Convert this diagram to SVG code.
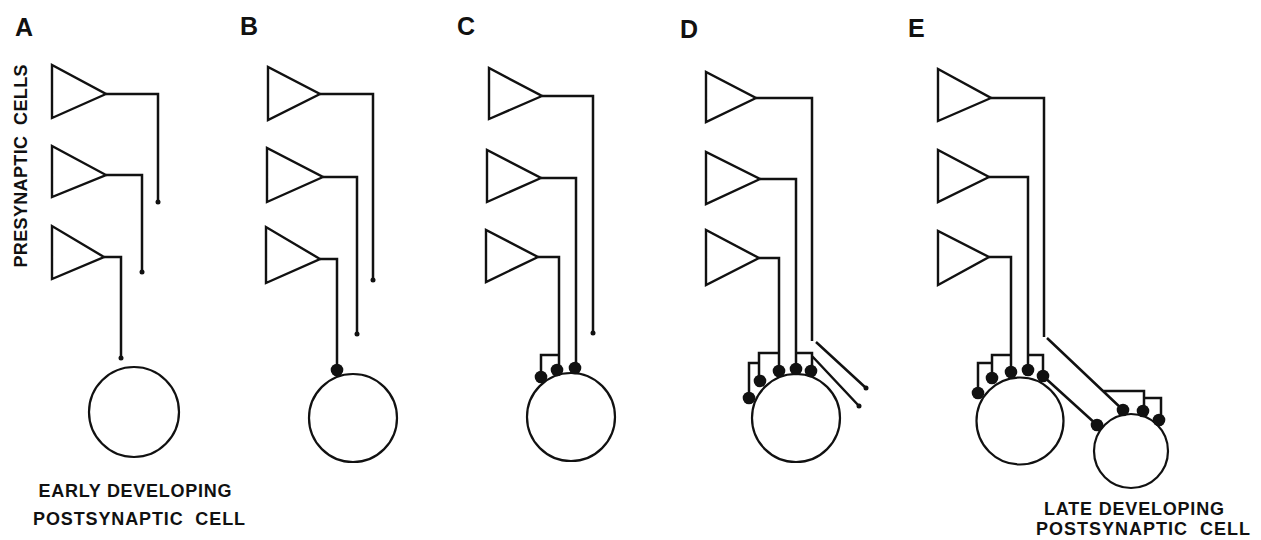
<svg xmlns="http://www.w3.org/2000/svg" width="1261" height="540" viewBox="0 0 1261 540">
<style>
.bg{fill:#fff}
.tri{fill:none;stroke:#111;stroke-width:2.4;stroke-linejoin:miter}
.ax{fill:none;stroke:#111;stroke-width:2.5;stroke-linejoin:miter}
.cell{fill:#fff;stroke:#111;stroke-width:2.2}
.syn{fill:#111}
.end{fill:#111}
.lbl{font-family:"Liberation Sans",Arial,sans-serif;font-weight:bold;font-size:25px;fill:#111}
.txt{font-family:"Liberation Sans",Arial,sans-serif;font-weight:bold;font-size:18px;fill:#111}
</style>
<rect class="bg" x="0" y="0" width="1261" height="540"/>

<!-- Panel A -->
<g id="panelA">
  <text class="lbl" x="15" y="36">A</text>
  <g id="A-pre1"><path class="tri" d="M52,65 L52,118 L106,94 Z"/></g>
  <g id="A-pre2"><path class="tri" d="M52,146 L52,197 L106,175 Z"/></g>
  <g id="A-pre3"><path class="tri" d="M52,226 L52,279 L104,257 Z"/></g>
  <g id="A-post"><circle class="cell" cx="134" cy="412" r="45"/></g>
  <text class="txt" transform="translate(27,166) rotate(-90)" x="0" y="0" text-anchor="middle" textLength="203" lengthAdjust="spacing" xml:space="preserve">PRESYNAPTIC  CELLS</text>
  <text class="txt" x="135" y="497" text-anchor="middle" textLength="193" lengthAdjust="spacing">EARLY DEVELOPING</text>
  <text class="txt" x="139" y="525" text-anchor="middle" textLength="212" lengthAdjust="spacing" xml:space="preserve">POSTSYNAPTIC  CELL</text>
</g>

<!-- Panel B -->
<g id="panelB">
  <text class="lbl" x="240" y="35">B</text>
  <g id="B-pre1"><path class="tri" d="M268,67 L268,120 L320,94 Z"/></g>
  <g id="B-pre2"><path class="tri" d="M267,148 L267,202 L323,177 Z"/></g>
  <g id="B-pre3"><path class="tri" d="M266,227 L266,283 L320,259 Z"/></g>
  <g id="B-post"><circle class="cell" cx="353" cy="418" r="44"/></g>
</g>

<!-- Panel C -->
<g id="panelC">
  <text class="lbl" x="457" y="35">C</text>
  <g id="C-pre1"><path class="tri" d="M489,68 L489,119 L542,96 Z"/></g>
  <g id="C-pre2"><path class="tri" d="M487,150 L487,202 L541,178 Z"/></g>
  <g id="C-pre3"><path class="tri" d="M486,230 L486,282 L538,257 Z"/></g>
  <g id="C-post"><circle class="cell" cx="571" cy="417" r="44"/></g>
</g>

<!-- Panel D -->
<g id="panelD">
  <text class="lbl" x="680" y="38">D</text>
  <g id="D-pre1"><path class="tri" d="M706,72 L706,122 L756,98 Z"/></g>
  <g id="D-pre2"><path class="tri" d="M706,152 L706,204 L760,179 Z"/></g>
  <g id="D-pre3"><path class="tri" d="M706,230 L706,285 L759,258 Z"/></g>
  <g id="D-post"><circle class="cell" cx="796" cy="418" r="44"/></g>
</g>

<!-- Panel E -->
<g id="panelE">
  <text class="lbl" x="908" y="37">E</text>
  <g id="E-pre1"><path class="tri" d="M938,69 L938,121 L991,98 Z"/></g>
  <g id="E-pre2"><path class="tri" d="M938,150 L938,202 L989,177 Z"/></g>
  <g id="E-pre3"><path class="tri" d="M938,231 L938,285 L989,257 Z"/></g>
  <g id="E-post1"><circle class="cell" cx="1020" cy="421" r="43.5"/></g>
  <g id="E-post2"><circle class="cell" cx="1131" cy="451" r="37"/></g>
  <text class="txt" x="1134" y="515" text-anchor="middle" textLength="180" lengthAdjust="spacing">LATE DEVELOPING</text>
  <text class="txt" x="1143" y="535" text-anchor="middle" textLength="214" lengthAdjust="spacing" xml:space="preserve">POSTSYNAPTIC  CELL</text>
</g>

<!-- Connectors (axons and synaptic terminals) -->
<g id="connectors">
  <!-- A -->
  <path class="ax" d="M106,94 H158 V202"/><circle class="end" cx="158" cy="202" r="2.5"/>
  <path class="ax" d="M106,175 H142 V272"/><circle class="end" cx="142" cy="272" r="2.5"/>
  <path class="ax" d="M104,257 H121 V358"/><circle class="end" cx="121" cy="358" r="2.5"/>
  <!-- B -->
  <path class="ax" d="M320,94 H373 V280"/><circle class="end" cx="373" cy="280" r="2.5"/>
  <path class="ax" d="M323,177 H357 V334"/><circle class="end" cx="357" cy="334" r="2.5"/>
  <path class="ax" d="M320,259 H337 V368"/><circle class="syn" cx="337" cy="370" r="6.3"/>
  <!-- C -->
  <path class="ax" d="M542,96 H593 V333"/><circle class="end" cx="593" cy="333" r="2.5"/>
  <path class="ax" d="M541,178 H576 V364"/><circle class="syn" cx="575" cy="368" r="6.3"/>
  <path class="ax" d="M538,257 H559 V366 M559,355 H541 V372"/>
  <circle class="syn" cx="557" cy="370" r="6.3"/><circle class="syn" cx="541" cy="377" r="6.3"/>
  <!-- D -->
  <path class="ax" d="M756,98 H812 V341 M816,342 L866,388"/><circle class="end" cx="866" cy="388" r="2.5"/>
  <path class="ax" d="M760,179 H796 V366 M796,353 H812 V366 M812,356 L859,406"/>
  <circle class="end" cx="859" cy="406" r="2.5"/>
  <circle class="syn" cx="796" cy="369" r="6.3"/><circle class="syn" cx="811" cy="371" r="6.3"/>
  <path class="ax" d="M759,258 H779 V366 M779,353 H759 V376 M759,363 H749 V393"/>
  <circle class="syn" cx="779" cy="371" r="6.3"/><circle class="syn" cx="760" cy="381" r="6.3"/><circle class="syn" cx="749" cy="398" r="6.3"/>
  <!-- E -->
  <path class="ax" d="M991,98 H1044 V337 M1047,338 L1123,410 M1103,391 H1144 V408 M1144,398 H1161 V416"/>
  <circle class="syn" cx="1123" cy="410" r="6.3"/><circle class="syn" cx="1143" cy="411" r="6.3"/><circle class="syn" cx="1159" cy="420" r="6.3"/>
  <path class="ax" d="M989,177 H1028 V367 M1028,355 H1043 V372 M1043,376 L1097,425"/>
  <circle class="syn" cx="1028" cy="370" r="6.3"/><circle class="syn" cx="1043" cy="376" r="6.3"/><circle class="syn" cx="1097" cy="425" r="6.3"/>
  <path class="ax" d="M989,257 H1011 V368 M1011,355 H992 V374 M992,363 H978 V389"/>
  <circle class="syn" cx="1011" cy="372" r="6.3"/><circle class="syn" cx="992" cy="378" r="6.3"/><circle class="syn" cx="978" cy="393" r="6.3"/>
</g>
</svg>
